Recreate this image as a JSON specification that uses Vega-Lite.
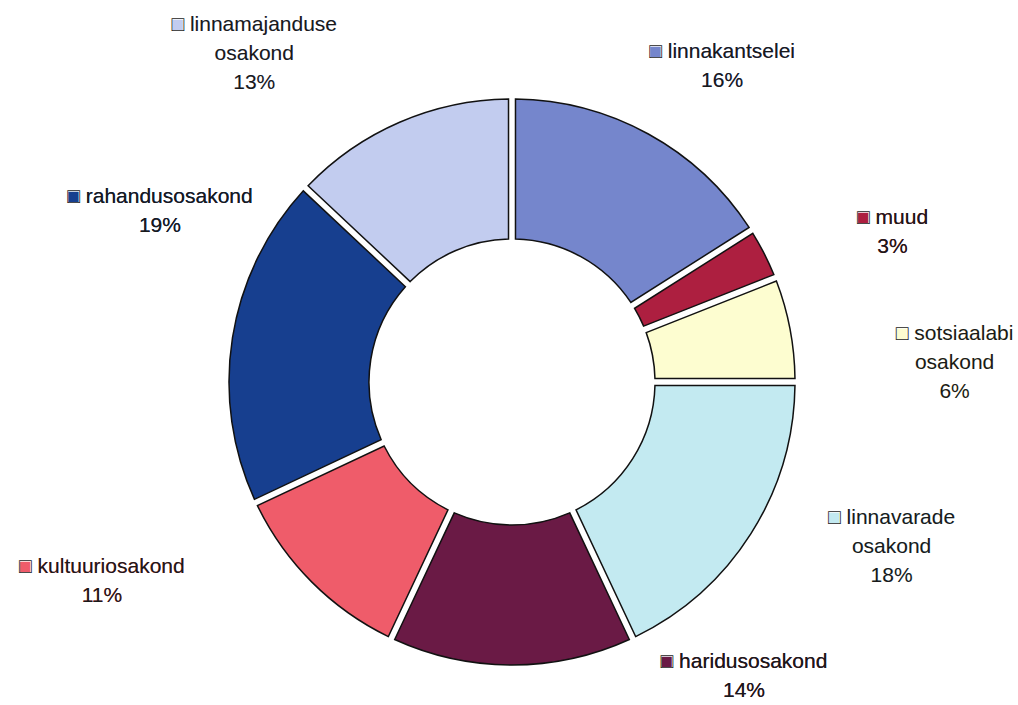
{
  "$schema": "https://vega.github.io/schema/vega-lite/v6.json",
  "autosize": {"type": "none"},
  "width": 1012,
  "height": 646,
  "padding": {"left": 6, "top": 59, "right": 0, "bottom": 0},
  "background": "white",
  "config": {"view": {"stroke": null}},
  "data": {
    "values": [
      {"dept": "linnakantselei", "value": 16, "order": 1},
      {"dept": "muud", "value": 3, "order": 2},
      {"dept": "sotsiaalabi osakond", "value": 6, "order": 3},
      {"dept": "linnavarade osakond", "value": 18, "order": 4},
      {"dept": "haridusosakond", "value": 14, "order": 5},
      {"dept": "kultuuriosakond", "value": 11, "order": 6},
      {"dept": "rahandusosakond", "value": 19, "order": 7},
      {"dept": "linnamajanduse osakond", "value": 13, "order": 8}
    ]
  },
  "transform": [
    {"calculate": "'■ ' + replace(datum.dept, ' ', '|') + '|' + datum.value + '%'", "as": "labelFill"},
    {"calculate": "'□ ' + replace(datum.dept, ' ', '|') + '|' + datum.value + '%'", "as": "labelText"}
  ],
  "encoding": {
    "theta": {"field": "value", "type": "quantitative", "stack": true},
    "order": {"field": "order", "type": "quantitative"},
    "color": {
      "field": "dept",
      "type": "nominal",
      "legend": null,
      "scale": {
        "domain": ["linnakantselei", "muud", "sotsiaalabi osakond", "linnavarade osakond", "haridusosakond", "kultuuriosakond", "rahandusosakond", "linnamajanduse osakond"],
        "range": ["#7586cc", "#ad1f40", "#fdfdd0", "#c3eaf1", "#6a1a45", "#ef5c6a", "#173f8f", "#c2ccef"]
      }
    }
  },
  "layer": [
    {
      "mark": {"type": "arc", "innerRadius": 143, "outerRadius": 283, "padAngle": 0.022, "stroke": "#111111", "strokeWidth": 1.5}
    },
    {
      "mark": {
        "type": "text", "radius": 390,
        "radiusOffset": {"expr": "[-11,19,53,24,-15,66,1,27][datum.order-1]"},
        "thetaOffset": {"expr": "[0.085,0.096,0.145,-0.155,-0.667,0.333,0.293,-0.258][datum.order-1]"},
        "dy": {"expr": "indexof(datum.dept, ' ') >= 0 ? -29 : -14.5"},
        "font": "Liberation Sans", "fontSize": 21, "lineHeight": 29, "lineBreak": "|",
        "align": "center", "baseline": "middle"
      },
      "encoding": {"text": {"field": "labelFill"}}
    },
    {
      "mark": {
        "type": "text", "radius": 390,
        "radiusOffset": {"expr": "[-11,19,53,24,-15,66,1,27][datum.order-1]"},
        "thetaOffset": {"expr": "[0.085,0.096,0.145,-0.155,-0.667,0.333,0.293,-0.258][datum.order-1]"},
        "dy": {"expr": "indexof(datum.dept, ' ') >= 0 ? -29 : -14.5"},
        "font": "Liberation Sans", "fontSize": 21, "lineHeight": 29, "lineBreak": "|",
        "align": "center", "baseline": "middle", "fill": "#1a1a1a"
      },
      "encoding": {"text": {"field": "labelText"}, "color": {"value": "#1a1a1a"}}
    }
  ]
}
